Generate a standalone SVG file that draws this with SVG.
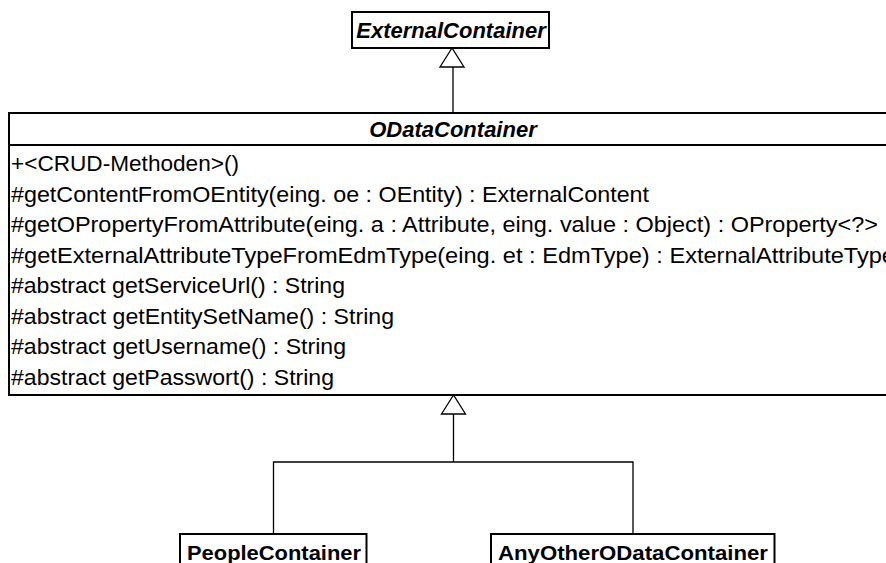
<svg xmlns="http://www.w3.org/2000/svg" width="886" height="563" viewBox="0 0 886 563">
  <style>
    .box { fill: #ffffff; stroke: #000000; stroke-width: 2; }
    .edge { fill: none; stroke: #000000; stroke-width: 1.3; }
    .head { fill: #ffffff; stroke: #000000; stroke-width: 1.3; stroke-linejoin: miter; }
    text { font-family: "Liberation Sans", Arial, sans-serif; fill: #000000; }
    .title { font-size: 22px; font-weight: bold; font-style: italic; text-anchor: middle; }
    .name { font-size: 21px; font-weight: bold; text-anchor: middle; }
    .op { font-size: 22.5px; }
  </style>
  <defs>
    <!-- hollow generalization triangle, tip pointing at the parent -->
    <polygon id="gen" class="head" points="0,0 -12,19 12,19"/>
  </defs>

  <rect width="886" height="563" fill="#ffffff"/>

  <!-- inheritance lines -->
  <g id="connectors">
    <line class="edge" x1="453" y1="67" x2="453" y2="113"/>
    <use href="#gen" x="452" y="48"/>
    <polyline class="edge" points="273.5,534 273.5,462 633,462 633,534"/>
    <line class="edge" x1="453.5" y1="413" x2="453.5" y2="462"/>
    <use href="#gen" x="453.5" y="395"/>
  </g>

  <g id="ExternalContainer">
    <rect class="box" x="352" y="12" width="197" height="36"/>
    <text class="title" x="451" y="38">ExternalContainer</text>
  </g>

  <g id="ODataContainer">
    <rect class="box" x="9" y="113" width="890" height="282"/>
    <line class="box" x1="9" y1="145" x2="899" y2="145"/>
    <text class="title" x="453" y="137">ODataContainer</text>
    <text class="op" x="11" y="171" textLength="228" lengthAdjust="spacingAndGlyphs">+&lt;CRUD-Methoden&gt;()</text>
    <text class="op" x="11" y="201.5" textLength="638" lengthAdjust="spacingAndGlyphs">#getContentFromOEntity(eing. oe : OEntity) : ExternalContent</text>
    <text class="op" x="11" y="232" textLength="867" lengthAdjust="spacingAndGlyphs">#getOPropertyFromAttribute(eing. a : Attribute, eing. value : Object) : OProperty&lt;?&gt;</text>
    <text class="op" x="11" y="262.5" textLength="884" lengthAdjust="spacingAndGlyphs">#getExternalAttributeTypeFromEdmType(eing. et : EdmType) : ExternalAttributeType</text>
    <text class="op" x="11" y="293" textLength="334" lengthAdjust="spacingAndGlyphs">#abstract getServiceUrl() : String</text>
    <text class="op" x="11" y="323.5" textLength="383" lengthAdjust="spacingAndGlyphs">#abstract getEntitySetName() : String</text>
    <text class="op" x="11" y="354" textLength="335" lengthAdjust="spacingAndGlyphs">#abstract getUsername() : String</text>
    <text class="op" x="11" y="384.5" textLength="323" lengthAdjust="spacingAndGlyphs">#abstract getPasswort() : String</text>
  </g>

  <g id="PeopleContainer">
    <rect class="box" x="180" y="534" width="186.5" height="40"/>
    <text class="name" x="274" y="560" textLength="174" lengthAdjust="spacingAndGlyphs">PeopleContainer</text>
  </g>

  <g id="AnyOtherODataContainer">
    <rect class="box" x="491" y="534" width="283.5" height="40"/>
    <text class="name" x="633" y="560" textLength="270" lengthAdjust="spacingAndGlyphs">AnyOtherODataContainer</text>
  </g>
</svg>
